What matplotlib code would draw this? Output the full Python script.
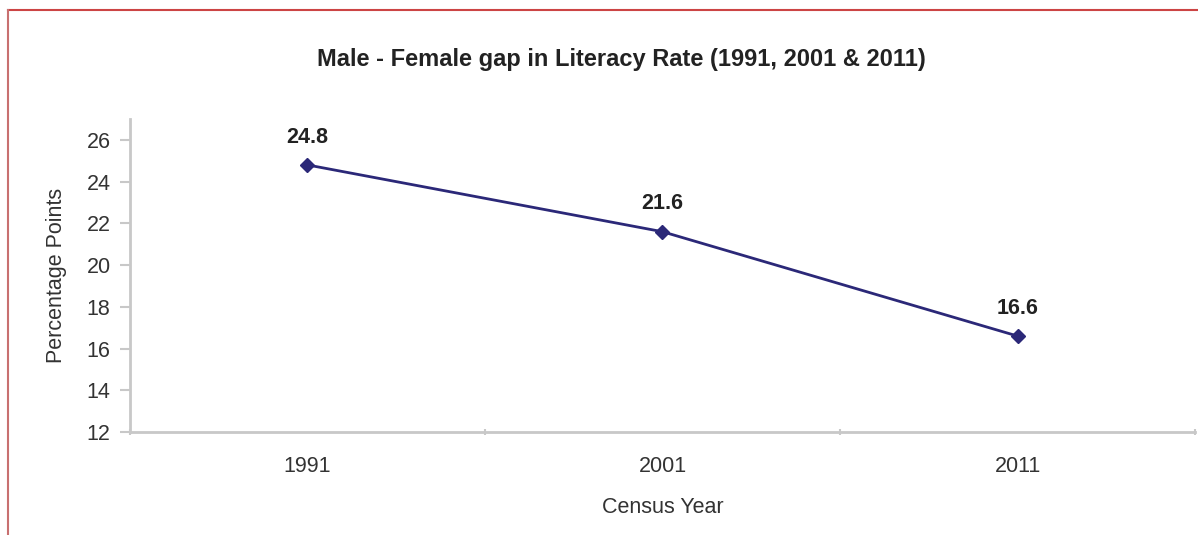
import matplotlib.pyplot as plt
from matplotlib.lines import Line2D

years = ['1991', '2001', '2011']
gap = [24.8, 21.6, 16.6]
yticks = [12, 14, 16, 18, 20, 22, 24, 26]

plt.rcParams['font.family'] = ['Liberation Sans', 'DejaVu Sans']

fig = plt.figure(figsize=(11.98, 5.35), dpi=100)
ax = fig.add_axes([0.1085, 0.1925, 0.889, 0.585])

x = list(range(len(years)))
ax.plot(x, gap, color='#2b2878', lw=2, marker='D', ms=7, zorder=3)
for xi, v in zip(x, gap):
    ax.annotate(f'{v}', (xi, v), xytext=(0, 20), textcoords='offset points',
                ha='center', va='center', fontsize=15.5, fontweight='bold', color='#222222')

ax.set_xlim(-0.5, 2.5)
ax.set_ylim(12, 27)
ax.set_yticks(yticks)
ax.set_xticks(x)
ax.set_xticklabels(years)
ax.set_xticks([-0.5, 0.5, 1.5, 2.5], minor=True)

for s in ['top', 'right']:
    ax.spines[s].set_visible(False)
for s in ['left', 'bottom']:
    ax.spines[s].set_color('#c8c8c8')
    ax.spines[s].set_linewidth(2)

ax.tick_params(axis='y', colors='#c8c8c8', labelcolor='#333333', labelsize=15.5, length=7, width=1.5, pad=7)
ax.tick_params(axis='x', which='major', length=0, labelsize=15.5, labelcolor='#333333', pad=17)
ax.tick_params(axis='x', which='minor', colors='#c8c8c8', length=5, width=1.5, direction='inout')

ax.set_xlabel('Census Year', fontsize=15.5, color='#333333', labelpad=15)
ax.set_ylabel('Percentage Points', fontsize=15.5, color='#333333', labelpad=14)
fig.suptitle('Male - Female gap in Literacy Rate (1991, 2001 & 2011)', x=0.519, y=0.91,
             fontsize=17, fontweight='bold', color='#222222')

# red frame, cut at right and bottom like the source
fig.add_artist(Line2D([0.007, 1.0], [0.981, 0.981], color='#cc4444', lw=1.5, transform=fig.transFigure))
fig.add_artist(Line2D([0.007, 0.007], [0.0, 0.981], color='#c87070', lw=1.5, transform=fig.transFigure))

fig.savefig('out.png', dpi=100, facecolor='white')
